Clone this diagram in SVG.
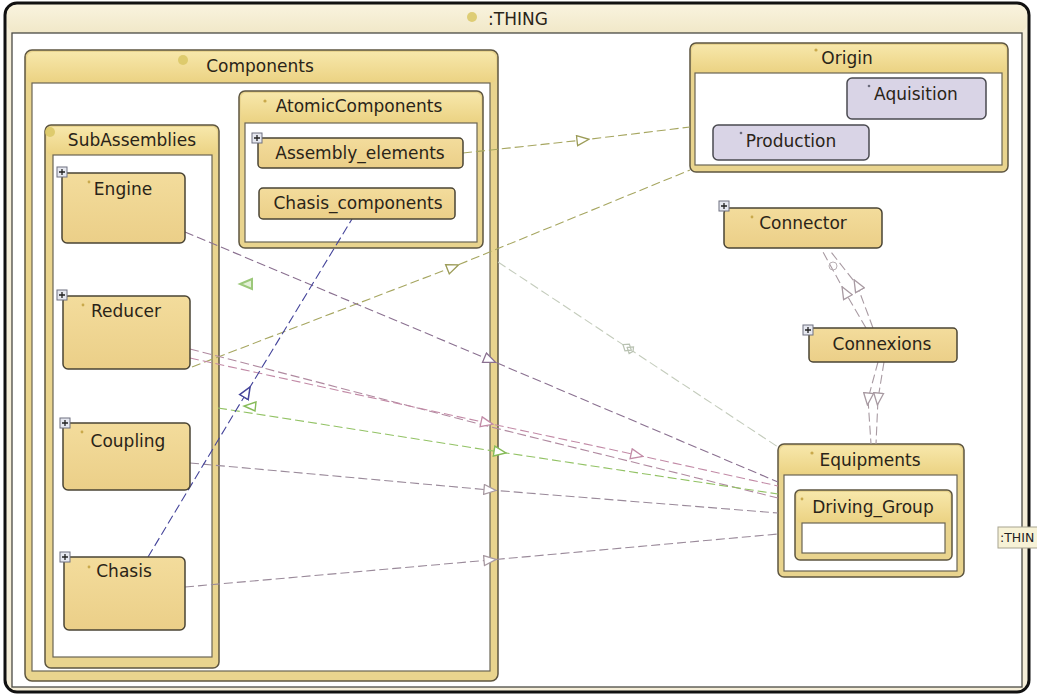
<svg xmlns="http://www.w3.org/2000/svg" width="1037" height="696" viewBox="0 0 1037 696">
  <style>
    .lbl { font-family: "DejaVu Sans", Verdana, sans-serif; font-size: 17px; fill: #2a2418; text-anchor: middle; }
    .frame { fill: #e9d48e; stroke: #5e5640; stroke-width: 1.5; }
    .hdr { fill: url(#hdrGrad); }
    .body { fill: #ffffff; stroke: #6a6454; stroke-width: 1.2; }
    .leaf { fill: url(#leafGrad); stroke: #4a4434; stroke-width: 1.5; }
    .lav { fill: #d9d4e6; stroke: #4a4a50; stroke-width: 1.5; }
    .plus rect { fill: #e6e8f0; stroke: #6e7080; stroke-width: 1; }
    .plus path { stroke: #222; stroke-width: 1.3; }
    .dot { fill: #c9a94c; }
    .ball { fill: #d9c764; opacity: 0.85; }
    .edge { fill: none; stroke-width: 1.1; stroke-dasharray: 9 4; }
  </style>
  <defs>
    <linearGradient id="hdrGrad" x1="0" y1="0" x2="0" y2="1">
      <stop offset="0" stop-color="#f7e7aa"/>
      <stop offset="1" stop-color="#ebd282"/>
    </linearGradient>
    <linearGradient id="leafGrad" x1="0" y1="0" x2="0" y2="1">
      <stop offset="0" stop-color="#f3dc9c"/>
      <stop offset="1" stop-color="#ebcf88"/>
    </linearGradient>
    <linearGradient id="thingHdr" x1="0" y1="0" x2="0" y2="1">
      <stop offset="0" stop-color="#f9f3de"/>
      <stop offset="1" stop-color="#f1e8c8"/>
    </linearGradient>
    <marker id="aOlive" viewBox="0 0 14 12" refX="7" refY="6" markerWidth="14" markerHeight="12" markerUnits="userSpaceOnUse" orient="auto">
      <path d="M1,1 L13,6 L1,11 Z" fill="#fff" stroke="#9c9c58" stroke-width="1.3"/>
    </marker>
    <marker id="aBlue" viewBox="0 0 14 12" refX="7" refY="6" markerWidth="14" markerHeight="12" markerUnits="userSpaceOnUse" orient="auto">
      <path d="M1,1 L13,6 L1,11 Z" fill="#fff" stroke="#44449a" stroke-width="1.5"/>
    </marker>
    <marker id="aMauve" viewBox="0 0 14 12" refX="7" refY="6" markerWidth="14" markerHeight="12" markerUnits="userSpaceOnUse" orient="auto">
      <path d="M1,1 L13,6 L1,11 Z" fill="#fff" stroke="#8a7090" stroke-width="1.3"/>
    </marker>
    <marker id="aPink" viewBox="0 0 14 12" refX="7" refY="6" markerWidth="14" markerHeight="12" markerUnits="userSpaceOnUse" orient="auto">
      <path d="M1,1 L13,6 L1,11 Z" fill="#fff" stroke="#c28aa6" stroke-width="1.3"/>
    </marker>
    <marker id="aGreen" viewBox="0 0 14 12" refX="7" refY="6" markerWidth="14" markerHeight="12" markerUnits="userSpaceOnUse" orient="auto">
      <path d="M1,1 L13,6 L1,11 Z" fill="#fff" stroke="#86bb58" stroke-width="1.4"/>
    </marker>
    <marker id="aGray" viewBox="0 0 14 12" refX="7" refY="6" markerWidth="14" markerHeight="12" markerUnits="userSpaceOnUse" orient="auto">
      <path d="M1,1 L13,6 L1,11 Z" fill="#fff" stroke="#a89aa2" stroke-width="1.3"/>
    </marker>
    <marker id="aFaint" viewBox="0 0 14 12" refX="7" refY="6" markerWidth="14" markerHeight="12" markerUnits="userSpaceOnUse" orient="auto">
      <path d="M1,6 L6,2 L11,6 L6,10 Z M6,6 L11,2 L13,6 L11,10 Z" fill="#fff" stroke="#b9c2b2" stroke-width="1.2"/>
    </marker>
  </defs>

  <rect width="1037" height="696" fill="#ffffff"/>

  <!-- root container -->
  <g id="thing">
    <rect x="5" y="3" width="1024" height="689" rx="12" fill="#f5eed8" stroke="#111" stroke-width="3"/>
    <rect x="7" y="5" width="1020" height="28" rx="10" fill="url(#thingHdr)"/>
    <rect x="12" y="33" width="1010" height="654" fill="#ffffff" stroke="#4a4a44" stroke-width="1.3"/>
    <circle class="ball" cx="472" cy="17" r="5"/>
    <text class="lbl" x="518" y="25">:THING</text>
  </g>

  <!-- containers -->
  <g id="components">
    <rect class="frame" x="25" y="50" width="473" height="631" rx="7"/>
    <rect class="hdr" x="27" y="52" width="469" height="31" rx="6"/>
    <rect class="body" x="32" y="83" width="458" height="588"/>
    <circle class="ball" cx="183" cy="60" r="5"/>
    <text class="lbl" x="260" y="72">Components</text>
  </g>

  <g id="subassemblies">
    <rect class="frame" x="45" y="125" width="174" height="543" rx="6"/>
    <rect class="hdr" x="47" y="127" width="170" height="28" rx="5"/>
    <rect class="body" x="53" y="155" width="159" height="502"/>
    <circle class="ball" cx="50" cy="132" r="5"/>
    <text class="lbl" x="132" y="146">SubAssemblies</text>
  </g>

  <g id="atomic-components">
    <rect class="frame" x="239" y="91" width="244" height="157" rx="6"/>
    <rect class="hdr" x="241" y="93" width="240" height="30" rx="5"/>
    <rect class="body" x="245" y="123" width="232" height="119"/>
    <circle class="dot" cx="265" cy="101" r="1.6"/>
    <text class="lbl" x="359" y="112">AtomicComponents</text>
  </g>

  <g id="origin">
    <rect class="frame" x="690" y="43" width="318" height="129" rx="6"/>
    <rect class="hdr" x="692" y="45" width="314" height="28" rx="5"/>
    <rect class="body" x="695" y="73" width="307" height="92"/>
    <circle class="dot" cx="816" cy="50" r="1.6"/>
    <text class="lbl" x="847" y="64">Origin</text>
  </g>

  <g id="equipments">
    <rect class="frame" x="778" y="444" width="186" height="133" rx="6"/>
    <rect class="hdr" x="780" y="446" width="182" height="29" rx="5"/>
    <rect class="body" x="784" y="475" width="173" height="96"/>
    <circle class="dot" cx="812" cy="453" r="1.6"/>
    <text class="lbl" x="870" y="466">Equipments</text>
  </g>

  <g id="driving-group">
    <rect class="frame" x="795" y="490" width="157" height="70" rx="5"/>
    <rect class="hdr" x="797" y="492" width="153" height="31" rx="4"/>
    <rect class="body" x="802" y="523" width="143" height="30"/>
    <circle class="dot" cx="802" cy="499" r="1.4"/>
    <text class="lbl" x="873" y="513">Driving_Group</text>
  </g>

  <!-- connectors -->
  <g id="connectors">
    <path class="edge" stroke="#a6a660" marker-mid="url(#aOlive)" d="M463,153 L583,140 L690,127"/>
    <path class="edge" stroke="#a6a660" marker-mid="url(#aOlive)" d="M192,367 L453,267 L690,170"/>
    <path class="edge" stroke="#c4ccbc" stroke-width="2" marker-mid="url(#aFaint)" d="M498,262 L628,348 L778,447"/>
    <path class="edge" stroke="#8a7090" marker-mid="url(#aMauve)" d="M185,232 L490,360 L778,482"/>
    <path class="edge" stroke="#b08aa0" d="M190,349 L483,425 L778,498"/>
    <path class="edge" stroke="#c28aa6" marker-mid="url(#aPink)" d="M190,358 L487,423 L637,455 L778,486"/>
    <path class="edge" stroke="#92c264" marker-mid="url(#aGreen)" d="M218,408 L500,452 L778,494"/>
    <path class="edge" stroke="#9a8a9a" marker-mid="url(#aGray)" d="M190,463 L490,490 L778,513"/>
    <path class="edge" stroke="#9a8a9a" marker-mid="url(#aGray)" d="M185,587 L490,560 L778,534"/>
    <path class="edge" stroke="#44449a" marker-mid="url(#aBlue)" d="M148,557 L247,392 L352,219"/>
    <polygon points="256,402 244,406 255,411" fill="#fff" stroke="#86bb58" stroke-width="1.4"/>
    <polygon points="252,279 240,284 252,289" fill="#e4f0d8" stroke="#9cc87a" stroke-width="2"/>
    <path class="edge" stroke="#a89aa2" marker-mid="url(#aGray)" d="M866,328 L845,292 L823,252"/>
    <path class="edge" stroke="#a89aa2" marker-mid="url(#aGray)" d="M873,328 L857,285 L831,252"/>
    <circle cx="833" cy="266" r="4" fill="none" stroke="#b8b0b4" stroke-width="1"/>
    <path class="edge" stroke="#a89aa2" marker-mid="url(#aGray)" d="M878,362 L868,399 L871,444"/>
    <path class="edge" stroke="#a89aa2" marker-mid="url(#aGray)" d="M884,362 L878,399 L876,444"/>
  </g>

  <!-- leaf classes -->
  <g id="engine">
    <rect class="leaf" x="62" y="173" width="123" height="70" rx="5"/>
    <g class="plus"><rect x="57" y="167" width="10" height="10"/><path d="M59,172 H65 M62,169 V175"/></g>
    <circle class="dot" cx="89" cy="182" r="1.4"/>
    <text class="lbl" x="123" y="195">Engine</text>
  </g>
  <g id="reducer">
    <rect class="leaf" x="63" y="296" width="127" height="73" rx="5"/>
    <g class="plus"><rect x="57" y="290" width="10" height="10"/><path d="M59,295 H65 M62,292 V298"/></g>
    <circle class="dot" cx="83" cy="305" r="1.4"/>
    <text class="lbl" x="126" y="317">Reducer</text>
  </g>
  <g id="coupling">
    <rect class="leaf" x="63" y="423" width="127" height="67" rx="5"/>
    <g class="plus"><rect x="60" y="418" width="10" height="10"/><path d="M62,423 H68 M65,420 V426"/></g>
    <circle class="dot" cx="82" cy="432" r="1.4"/>
    <text class="lbl" x="128" y="447">Coupling</text>
  </g>
  <g id="chasis">
    <rect class="leaf" x="64" y="557" width="121" height="73" rx="5"/>
    <g class="plus"><rect x="60" y="552" width="10" height="10"/><path d="M62,557 H68 M65,554 V560"/></g>
    <circle class="dot" cx="89" cy="567" r="1.4"/>
    <text class="lbl" x="124" y="577">Chasis</text>
  </g>
  <g id="assembly-elements">
    <rect class="leaf" x="258" y="138" width="205" height="30" rx="4"/>
    <g class="plus"><rect x="252" y="133" width="10" height="10"/><path d="M254,138 H260 M257,135 V141"/></g>
    <text class="lbl" x="360" y="159">Assembly_elements</text>
  </g>
  <g id="chasis-components">
    <rect class="leaf" x="259" y="188" width="196" height="31" rx="4"/>
    <text class="lbl" x="358" y="209">Chasis_components</text>
  </g>
  <g id="aquisition">
    <rect class="lav" x="847" y="78" width="139" height="41" rx="5"/>
    <circle cx="869" cy="86" r="1.3" fill="#6a6a7a"/>
    <text class="lbl" x="916" y="100">Aquisition</text>
  </g>
  <g id="production">
    <rect class="lav" x="713" y="125" width="156" height="35" rx="5"/>
    <circle cx="741" cy="133" r="1.3" fill="#6a6a7a"/>
    <text class="lbl" x="791" y="147">Production</text>
  </g>
  <g id="connector">
    <rect class="leaf" x="724" y="208" width="158" height="40" rx="5"/>
    <g class="plus"><rect x="719" y="201" width="10" height="10"/><path d="M721,206 H727 M724,203 V209"/></g>
    <circle class="dot" cx="752" cy="217" r="1.4"/>
    <text class="lbl" x="803" y="229">Connector</text>
  </g>
  <g id="connexions">
    <rect class="leaf" x="809" y="328" width="148" height="34" rx="4"/>
    <g class="plus"><rect x="803" y="325" width="10" height="10"/><path d="M805,330 H811 M808,327 V333"/></g>
    <text class="lbl" x="882" y="350">Connexions</text>
  </g>

  <!-- tooltip at the right edge -->
  <g id="thing-tag">
    <rect x="998" y="527" width="48" height="21" fill="#f7f2d6" stroke="#a8a490" stroke-width="1"/>
    <text x="1000" y="542" font-family="DejaVu Sans, Verdana, sans-serif" font-size="12.5" fill="#222">:THIN</text>
  </g>
</svg>
